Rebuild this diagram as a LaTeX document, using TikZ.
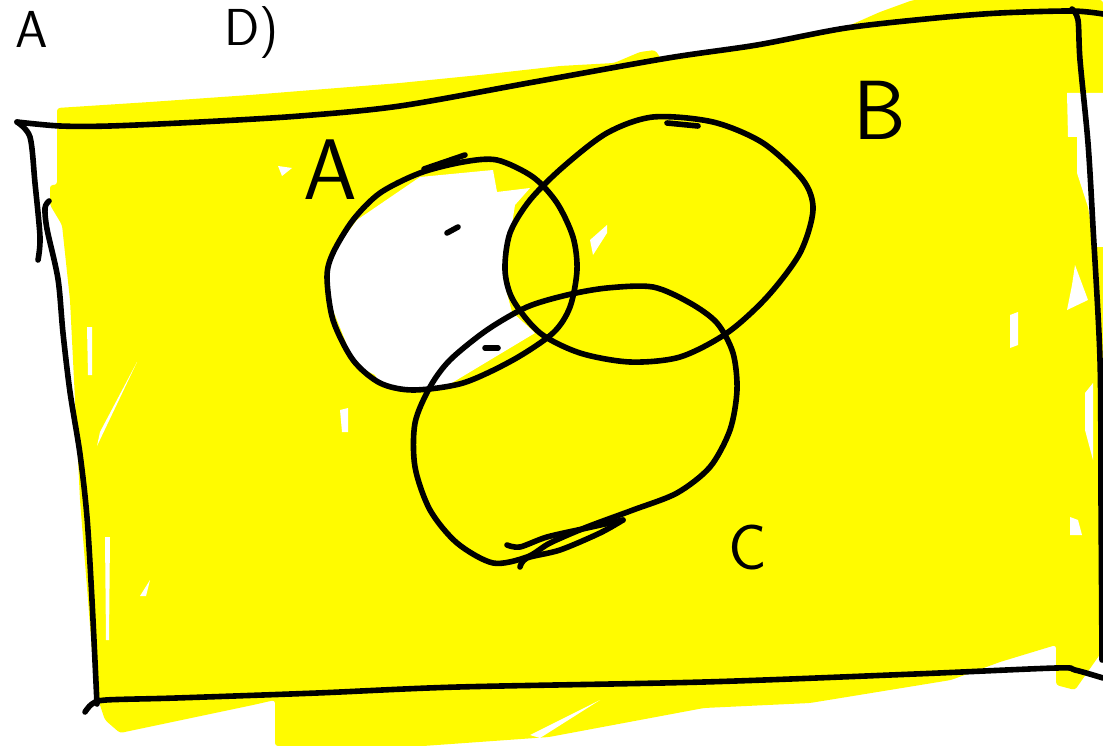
\documentclass[tikz,border=0pt]{standalone}
\definecolor{hl}{RGB}{255,251,0}
\tikzset{
  ink/.style={draw=black, line width=5.6pt, line cap=round, line join=round},
  gap/.style={fill=white, draw=none},
  lbl/.style={inner sep=0pt, font=\sffamily},
}
\begin{document}
\begin{tikzpicture}[x=1pt, y=-1pt]
\useasboundingbox (0,0) rectangle (1103,746);
\clip (0,0) rectangle (1103,746);
% highlighter fill
\fill[hl, rounded corners=3pt] (57,108) -- (150,102) -- (250,95) -- (400,83) -- (480,75) -- (560,66) -- (614,63) -- (640,52) -- (655,50) -- (662,60) -- (793,37) -- (846,27) -- (880,12) -- (913,0) -- (1103,0)
 -- (1103,650) -- (1075,690) -- (1056,685) -- (1056,645) -- (1000,662) -- (951,680) -- (810,703) -- (704,708) -- (549,737) -- (423,746) -- (275,746) -- (275,700) -- (253,705) -- (120,733) -- (105,720) -- (95,690) -- (88,600) -- (80,500) -- (75,400) -- (70,300) -- (62,225) -- (50,205) -- (50,185) -- (57,185) -- cycle;
% gaps in the highlighting
\fill[gap] (1067,93) -- (1103,93) -- (1103,247) -- (1095,247) -- (1088,207) -- (1077,173) -- (1077,137) -- (1068,137) -- cycle;
\fill[gap] (1075,265) -- (1088,300) -- (1067,310) -- (1072,285) -- cycle;
\fill[gap] (1010,315) -- (1018,312) -- (1018,345) -- (1010,348) -- cycle;
\fill[gap] (1085,393) -- (1093,383) -- (1093,460) -- (1085,430) -- cycle;
\fill[gap] (1070,517) -- (1078,520) -- (1082,535) -- (1070,535) -- cycle;
\fill[gap] (97,446) -- (137,362) -- (100,432) -- cycle;
\fill[gap] (105,537) -- (110,537) -- (109,640) -- (106,640) -- cycle;
\fill[gap] (140,596) -- (150,580) -- (146,596) -- cycle;
\fill[gap] (87,327) -- (92,327) -- (92,375) -- (88,375) -- cycle;
\fill[gap] (278,166) -- (292,168) -- (282,176) -- cycle;
\fill[gap] (340,410) -- (348,408) -- (348,432) -- (342,432) -- cycle;
\fill[gap] (590,240) -- (607,225) -- (607,233) -- (593,255) -- cycle;
\fill[gap] (530,735) -- (600,700) -- (540,738) -- cycle;
% un-highlighted part of A
\begin{scope}
\clip plot[smooth cycle] coordinates {(497,160) (533,177) (557,203) (573,237) (577,270) (570,307) (553,333) (513,360) (463,383) (413,390) (380,383) (353,360) (333,320) (327,277) (333,253) (353,220) (380,193) (420,173) (463,162)};
\fill[white] (420,177) -- (493,170) -- (497,192) -- (530,188) -- (515,205) -- (508,250) -- (506,290) -- (512,312) -- (535,333) -- (415,405) -- (405,392) -- (385,392) -- (375,375) -- (355,365) -- (345,340) -- (333,310) -- (320,295) -- (320,250) -- (337,247) -- (357,220) -- cycle;
\end{scope}
% frame
\draw[ink] plot[smooth] coordinates {(17,122) (60,126) (110,126) (200,122) (300,116) (400,106) (534,82) (668,58) (757,45) (846,28) (936,18) (1000,13) (1072,11) (1103,14)};
\draw[ink] plot[smooth] coordinates {(17,122) (30,137) (35,183) (40,237) (38,260)};
\draw[ink] plot[smooth] coordinates {(49,201) (45,208) (47,229) (58,279) (63,333) (70,392) (80,454) (87,517) (92,600) (97,704)};
\draw[ink] plot[smooth] coordinates {(85,712) (92,704) (106,700) (176,698) (317,693) (458,687) (704,682) (915,674) (1056,668) (1075,670) (1103,678)};
\draw[ink] plot[smooth] coordinates {(1072,9) (1078,20) (1080,60) (1088,143) (1093,227) (1100,360) (1101,500) (1102,660)};
% sets
\draw[ink] plot[smooth cycle] coordinates {(497,160) (533,177) (557,203) (573,237) (577,270) (570,307) (553,333) (513,360) (463,383) (413,390) (380,383) (353,360) (333,320) (327,277) (333,253) (353,220) (380,193) (420,173) (463,162)};
\draw[ink] plot[smooth cycle] coordinates {(653,117) (713,122) (763,143) (803,180) (813,210) (800,253) (767,297) (727,333) (680,357) (630,362) (580,353) (540,333) (513,300) (505,270) (510,233) (530,200) (563,167) (607,133)};
\draw[ink] plot[smooth cycle] coordinates {(607,288) (653,287) (690,303) (717,323) (733,353) (737,390) (730,430) (710,467) (677,493) (633,510) (587,527) (550,543) (527,557) (493,563) (457,543) (430,510) (415,467) (415,423) (430,387) (450,360) (487,330) (527,307) (567,295)};
\draw[ink] plot[smooth] coordinates {(507,545) (520,547) (547,537) (587,528) (623,520)};
\draw[ink] plot[smooth] coordinates {(623,520) (600,533) (560,550) (527,558) (520,567)};
% small marks
\draw[ink] (424,169) -- (465,155);
\draw[ink] (447,233) -- (458,227);
\draw[ink] (485,348) -- (498,348);
\draw[ink] (667,123) -- (698,126);
% labels
\node[lbl, font=\sffamily\fontsize{86}{86}\selectfont] (labA) at (330,170) {A};
\node[lbl, font=\sffamily\fontsize{84}{84}\selectfont] (labB) at (880,110) {B};
\node[lbl, font=\sffamily\fontsize{64}{64}\selectfont] (labC) at (748,548) {C};
% heading (kept fully visible)
\node[lbl, font=\sffamily\fontsize{52}{52}\selectfont, anchor=base] (topA) at (32,48) {A};
\node[lbl, font=\sffamily\fontsize{52}{52}\selectfont, anchor=base west] (topD) at (224,46) {D)};
\end{tikzpicture}
\end{document}
